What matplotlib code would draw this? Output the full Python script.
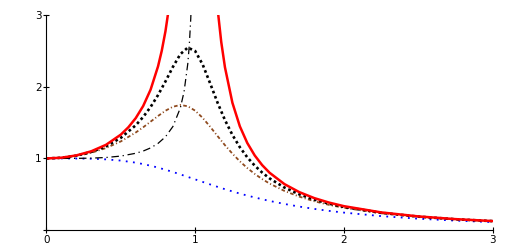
import matplotlib.pyplot as plt

# frequency ratio samples
r = [0, 0.1, 0.2, 0.3, 0.4, 0.5, 0.6, 0.65, 0.7, 0.75, 0.8, 0.85, 0.9, 0.95,
     1.0, 1.05, 1.1, 1.15, 1.2, 1.25, 1.3, 1.35, 1.4, 1.45, 1.5,
     1.6, 1.7, 1.8, 1.9, 2.0, 2.25, 2.5, 2.75, 3.0]

# damped responses
amp_black = [1.000, 1.009, 1.038, 1.090, 1.169, 1.288, 1.463, 1.579, 1.719, 1.885,
             2.076, 2.279, 2.457, 2.549, 2.500, 2.313, 2.051, 1.780, 1.536, 1.329,
             1.157, 1.016, 0.900, 0.803, 0.721, 0.593, 0.498, 0.425, 0.368, 0.322,
             0.240, 0.187, 0.150, 0.124]
amp_brown = [1.000, 1.008, 1.034, 1.078, 1.145, 1.238, 1.362, 1.435, 1.514, 1.593,
             1.667, 1.722, 1.747, 1.729, 1.667, 1.567, 1.444, 1.313, 1.185, 1.067,
             0.960, 0.866, 0.784, 0.712, 0.649, 0.546, 0.466, 0.402, 0.351, 0.310,
             0.234, 0.183, 0.148, 0.122]
amp_blue = [1.000, 1.000, 0.999, 0.996, 0.987, 0.970, 0.941, 0.921, 0.898, 0.872,
            0.842, 0.811, 0.777, 0.742, 0.707, 0.672, 0.637, 0.603, 0.570, 0.539,
            0.509, 0.481, 0.455, 0.430, 0.406, 0.364, 0.327, 0.295, 0.267, 0.243,
            0.194, 0.158, 0.131, 0.110]

# undamped response, two branches
r_red1 = [0, 0.1, 0.2, 0.3, 0.4, 0.5, 0.55, 0.6, 0.65, 0.7, 0.75, 0.775, 0.8, 0.825, 0.85]
amp_red1 = [1.000, 1.010, 1.042, 1.099, 1.190, 1.333, 1.434, 1.563, 1.732, 1.961, 2.286,
            2.504, 2.778, 3.131, 3.604]
r_red2 = [1.15, 1.175, 1.2, 1.25, 1.3, 1.35, 1.4, 1.45, 1.5, 1.6, 1.7, 1.8, 1.9,
          2.0, 2.25, 2.5, 2.75, 3.0]
amp_red2 = [3.101, 2.627, 2.273, 1.778, 1.449, 1.216, 1.042, 0.907, 0.800, 0.641,
            0.529, 0.446, 0.383, 0.333, 0.246, 0.190, 0.152, 0.125]

# dash-dot curve
r_dd = [0, 0.1, 0.2, 0.3, 0.4, 0.5, 0.6, 0.65, 0.7, 0.75, 0.8, 0.85, 0.9, 0.925,
        0.95, 0.96, 0.97, 0.975, 0.985]
amp_dd = [1.000, 1.000, 1.001, 1.004, 1.013, 1.033, 1.072, 1.103, 1.147, 1.210,
          1.302, 1.446, 1.705, 1.932, 2.322, 2.576, 2.953, 3.222, 4.129]

fig = plt.figure(figsize=(5.13, 2.52), dpi=100)
ax = fig.add_axes([0.0906, 0.0873, 0.8698, 0.852])

ax.plot(r, amp_blue, color='#0000ff', lw=1.3, ls=(0, (1, 3.0)))
ax.plot(r, amp_brown, color='#8f4a1e', lw=1.3, ls=(0, (2.0, 1.3, 0.6, 1.3)))
ax.plot(r_dd, amp_dd, color='black', lw=0.9, ls=(0, (6, 3, 1, 3)))
ax.plot(r, amp_black, color='black', lw=1.9, ls=(0, (1, 1.1)))
ax.plot(r_red1, amp_red1, color='#ff0000', lw=1.8)
ax.plot(r_red2, amp_red2, color='#ff0000', lw=1.8)

ax.set_xlim(0, 3)
ax.set_ylim(0, 3)
for s in ['top', 'right']:
    ax.spines[s].set_visible(False)
for s in ['left', 'bottom']:
    ax.spines[s].set_linewidth(0.8)
ax.set_xticks([0, 1, 2, 3])
ax.set_yticks([0, 1, 2, 3])
ax.set_yticklabels(['', '1', '2', '3'])
ax.tick_params(direction='inout', length=5, width=0.8, labelsize=7.5, pad=1)

plt.savefig('out.png', dpi=100)
